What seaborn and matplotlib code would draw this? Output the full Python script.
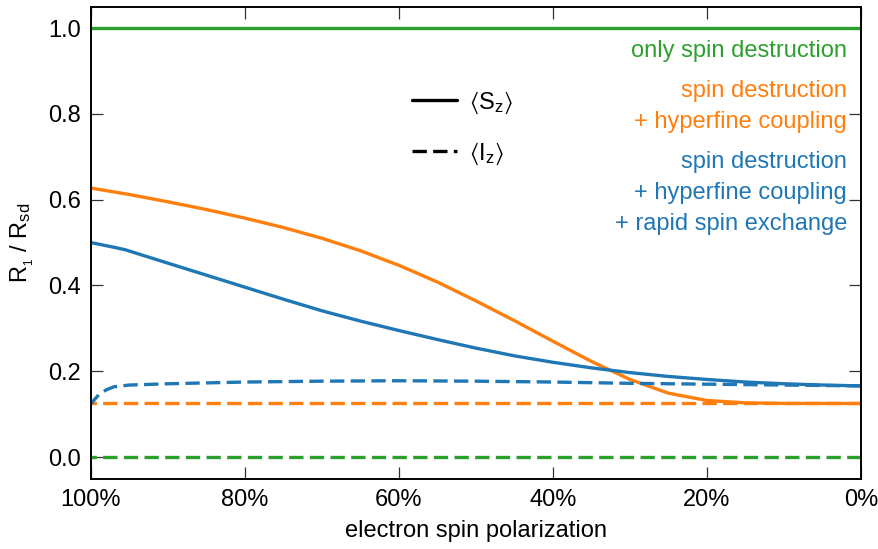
import matplotlib
matplotlib.use("Agg")
import matplotlib.pyplot as plt
from matplotlib.lines import Line2D
from matplotlib.ticker import FuncFormatter
import seaborn as sns

# electron spin polarization (%) and relaxation rates R1 / Rsd
pol_hf = [100, 95, 90, 85, 80, 75, 70, 65, 60, 55, 50, 45, 40, 35, 30, 25, 20, 15, 10, 5, 0]
sd_hf_S = [0.627, 0.612, 0.595, 0.577, 0.557, 0.535, 0.510, 0.481, 0.447, 0.408, 0.364,
           0.318, 0.270, 0.223, 0.181, 0.149, 0.132, 0.1265, 0.1252, 0.125, 0.125]

pol_se = [100, 97, 95.5, 90, 85, 80, 75, 70, 65, 60, 55, 50, 45, 40, 35, 30, 25, 20, 15, 10, 5, 0]
sd_hf_se_S = [0.500, 0.489, 0.483, 0.452, 0.424, 0.396, 0.368, 0.341, 0.317, 0.295, 0.274,
              0.254, 0.236, 0.221, 0.208, 0.197, 0.188, 0.181, 0.175, 0.171, 0.168, 0.166]

pol_se_I = [100, 99, 98, 97, 95, 90, 80, 70, 60, 50, 40, 30, 20, 10, 0]
sd_hf_se_I = [0.125, 0.145, 0.157, 0.164, 0.168, 0.171, 0.175, 0.177, 0.178, 0.177, 0.175,
              0.172, 0.170, 0.168, 0.166]

pol_flat = [100, 0]
sd_hf_I = [0.125, 0.125]
sd_S = [1.0, 1.0]
sd_I = [0.0, 0.0]

blue, orange, green = "#1f77b4", "#ff7f0e", "#2ca02c"

sns.set_theme(style="ticks")
plt.rcParams["font.family"] = ["Liberation Sans", "DejaVu Sans"]
plt.rcParams["mathtext.fontset"] = "custom"
plt.rcParams["mathtext.rm"] = "Liberation Sans"
plt.rcParams["mathtext.it"] = "Liberation Sans:italic"
plt.rcParams["mathtext.fallback"] = "stixsans"
for key in ("text.color", "axes.labelcolor", "xtick.labelcolor", "ytick.labelcolor"):
    plt.rcParams[key] = "black"

fig = plt.figure(figsize=(8.79, 5.49), dpi=100)
ax = fig.add_axes([0.1035, 0.1275, 0.876, 0.8597])

lw = 2.4
dash = (0, (4.3, 1.9))

sns.lineplot(x=pol_flat, y=sd_S, ax=ax, color=green, lw=lw)
sns.lineplot(x=pol_flat, y=sd_I, ax=ax, color=green, lw=lw, linestyle=dash)
sns.lineplot(x=pol_hf, y=sd_hf_S, ax=ax, color=orange, lw=lw)
sns.lineplot(x=pol_flat, y=sd_hf_I, ax=ax, color=orange, lw=lw, linestyle=dash)
sns.lineplot(x=pol_se, y=sd_hf_se_S, ax=ax, color=blue, lw=lw)
sns.lineplot(x=pol_se_I, y=sd_hf_se_I, ax=ax, color=blue, lw=lw, linestyle=dash)

ax.set_xlim(100, 0)
ax.set_ylim(-0.051, 1.049)
ax.set_xticks([100, 80, 60, 40, 20, 0])
ax.xaxis.set_major_formatter(FuncFormatter(lambda v, _: f"{v:.0f}%"))
ax.set_yticks([0.0, 0.2, 0.4, 0.6, 0.8, 1.0])
ax.yaxis.set_major_formatter(FuncFormatter(lambda v, _: f"{v:.1f}"))

ax.tick_params(direction="in", length=8.5, width=0.9, color="#333333",
               labelsize=17, top=True, right=True, pad=7)
for sp in ax.spines.values():
    sp.set_linewidth(1.4)
    sp.set_color("black")

ax.set_xlabel("electron spin polarization", fontsize=17, labelpad=7)
ax.set_ylabel(r"$\mathrm{R_{_1}\ /\ R_{sd}}$", fontsize=17, labelpad=9)

# curve annotations
tx = 0.982
ax.text(tx, 0.894, "only spin destruction", color=green, fontsize=17,
        ha="right", va="baseline", transform=ax.transAxes)
ax.text(tx, 0.809, "spin destruction", color=orange, fontsize=17,
        ha="right", va="baseline", transform=ax.transAxes)
ax.text(tx, 0.744, "+ hyperfine coupling", color=orange, fontsize=17,
        ha="right", va="baseline", transform=ax.transAxes)
ax.text(tx, 0.659, "spin destruction", color=blue, fontsize=17,
        ha="right", va="baseline", transform=ax.transAxes)
ax.text(tx, 0.594, "+ hyperfine coupling", color=blue, fontsize=17,
        ha="right", va="baseline", transform=ax.transAxes)
ax.text(tx, 0.528, "+ rapid spin exchange", color=blue, fontsize=17,
        ha="right", va="baseline", transform=ax.transAxes)

handles = [Line2D([], [], color="black", lw=lw),
           Line2D([], [], color="black", lw=lw, linestyle=dash)]
labels = [r"$\langle\mathrm{S_z}\rangle$", r"$\langle\mathrm{I_z}\rangle$"]
ax.legend(handles, labels, loc="upper left", bbox_to_anchor=(0.417, 0.825),
          frameon=False, fontsize=17, handlelength=1.9, handletextpad=0.5,
          labelspacing=1.05, borderpad=0, borderaxespad=0)

fig.savefig("out.png", dpi=100)
